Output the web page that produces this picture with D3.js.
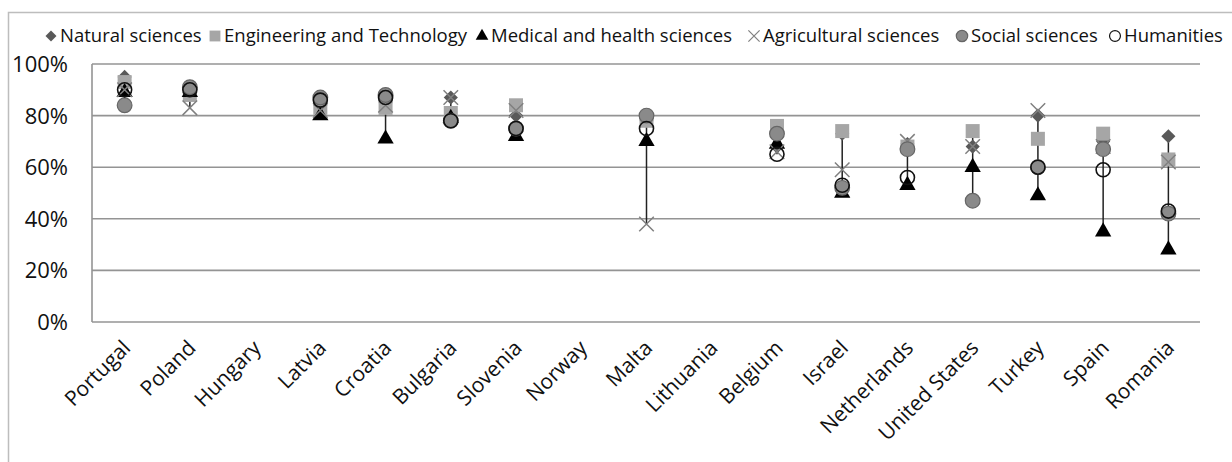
<!DOCTYPE html>
<html>
<head>
<meta charset="utf-8">
<script src="https://cdn.jsdelivr.net/npm/d3@7"></script>
<style>
  body { margin: 0; background: #fff; }
  svg { display: block; font-family: "Open Sans", sans-serif; }
</style>
</head>
<body>
<svg width="1232" height="462"></svg>
<script>
const countries = ['Portugal', 'Poland', 'Hungary', 'Latvia', 'Croatia', 'Bulgaria', 'Slovenia', 'Norway',
    'Malta', 'Lithuania', 'Belgium', 'Israel', 'Netherlands', 'United States', 'Turkey', 'Spain', 'Romania'];

// shares per country, null where there is no value
const natural      = [0.95, 0.89, null, 0.84, 0.85, 0.87, 0.80, null, 0.78, null, 0.68, 0.73, 0.69, 0.68, 0.80, 0.70, 0.72];
const engineering  = [0.93, 0.88, null, 0.83, 0.83, 0.81, 0.84, null, 0.78, null, 0.76, 0.74, 0.68, 0.74, 0.71, 0.73, 0.63];
const medical      = [0.89, 0.89, null, 0.80, 0.71, 0.79, 0.72, null, 0.70, null, 0.69, 0.50, 0.53, 0.60, 0.49, 0.35, 0.28];
const agricultural = [0.90, 0.83, null, 0.82, 0.84, 0.87, 0.82, null, 0.38, null, 0.66, 0.59, 0.70, 0.68, 0.82, 0.68, 0.62];
const social       = [0.84, 0.91, null, 0.87, 0.88, 0.78, 0.75, null, 0.80, null, 0.73, 0.52, 0.67, 0.47, 0.60, 0.67, 0.42];
const humanities   = [0.90, 0.90, null, 0.86, 0.87, 0.78, 0.75, null, 0.75, null, 0.65, 0.53, 0.56, null, 0.60, 0.59, 0.43];

const seriesNames = ['Natural sciences', 'Engineering and Technology', 'Medical and health sciences',
    'Agricultural sciences', 'Social sciences', 'Humanities'];
const yTicks = [0, 0.2, 0.4, 0.6, 0.8, 1];

const series = [natural, engineering, medical, agricultural, social, humanities];

const styles = [
    { type: d3.symbolSquare, size: 100, rotate: 45, fill: '#595959', stroke: 'none' },
    { type: d3.symbolSquare, size: 196, rotate: 0, fill: '#a6a6a6', stroke: 'none' },
    { type: d3.symbolTriangle, size: 115, rotate: 0, fill: '#000', stroke: 'none' },
    { type: d3.symbolTimes, size: 140, rotate: 0, fill: 'none', stroke: '#808080', sw: 1.5 },
    { type: d3.symbolCircle, size: 170, rotate: 0, fill: '#8a8a8a', stroke: '#666', sw: 1.2 },
    { type: d3.symbolCircle, size: 155, rotate: 0, fill: 'none', stroke: '#111', sw: 1.6 }
];

const plotLeft = 92, plotRight = 1201, plotTop = 64, plotBottom = 322;

const svg = d3.select('svg');

svg.append('rect')
    .attr('x', 8.5).attr('y', 12.5)
    .attr('width', 1240).attr('height', 470)
    .attr('fill', 'none')
    .attr('stroke', '#bdbdbd')
    .attr('stroke-width', 1.5);

const x = d3.scaleBand().domain(countries).range([plotLeft, plotRight]);
const y = d3.scaleLinear().domain([0, 1]).range([plotBottom, plotTop]);
const cx = c => x(c) + x.bandwidth() / 2;

// grid
svg.append('g')
    .selectAll('line')
    .data(yTicks)
    .join('line')
        .attr('x1', plotLeft).attr('x2', plotRight - 1)
        .attr('y1', d => y(d)).attr('y2', d => y(d))
        .attr('stroke', '#949494')
        .attr('stroke-width', 1.6);

svg.append('line')
    .attr('x1', plotLeft).attr('x2', plotLeft)
    .attr('y1', plotTop).attr('y2', plotBottom)
    .attr('stroke', '#949494')
    .attr('stroke-width', 1.6);

svg.append('g')
    .selectAll('text')
    .data(yTicks)
    .join('text')
        .attr('x', 68)
        .attr('y', d => y(d))
        .attr('dy', '0.36em')
        .attr('text-anchor', 'end')
        .style('font-size', '22px')
        .attr('fill', '#111')
        .text(d3.format('.0%'));

// x labels
svg.append('g')
    .selectAll('text')
    .data(countries)
    .join('text')
        .attr('transform', d => `translate(${cx(d) + 2}, 344) rotate(-45)`)
        .attr('text-anchor', 'end')
        .attr('dy', '0.35em')
        .style('font-size', '21px')
        .attr('fill', '#111')
        .text(d => d);

// high-low lines
const ranges = countries.map((c, i) => {
    const vals = series.map(s => s[i]).filter(v => v != null);
    return vals.length ? { c, lo: d3.min(vals), hi: d3.max(vals) } : null;
}).filter(d => d);

svg.append('g')
    .selectAll('line')
    .data(ranges)
    .join('line')
        .attr('x1', d => cx(d.c))
        .attr('x2', d => cx(d.c))
        .attr('y1', d => y(d.hi))
        .attr('y2', d => y(d.lo))
        .attr('stroke', '#222')
        .attr('stroke-width', 1.5);

// markers
series.forEach((s, k) => {
    const st = styles[k];
    const pts = countries.map((c, i) => ({ c, v: s[i] })).filter(d => d.v != null);
    svg.append('g')
        .selectAll('path')
        .data(pts)
        .join('path')
            .attr('d', d3.symbol().type(st.type).size(st.size))
            .attr('transform', d => `translate(${cx(d.c)}, ${y(d.v)}) rotate(${st.rotate})`)
            .attr('fill', st.fill)
            .attr('stroke', st.stroke)
            .attr('stroke-width', st.sw || 0);
});

// legend
const legendX = [51, 215, 482, 754, 962, 1115];
const legend = svg.append('g')
    .selectAll('g')
    .data(seriesNames)
    .join('g')
        .attr('transform', (d, i) => `translate(${legendX[i]}, 36)`);

legend.append('path')
    .attr('d', (d, i) => d3.symbol().type(styles[i].type).size(styles[i].size * 0.6)())
    .attr('transform', (d, i) => `rotate(${styles[i].rotate})`)
    .attr('fill', (d, i) => styles[i].fill)
    .attr('stroke', (d, i) => styles[i].stroke)
    .attr('stroke-width', (d, i) => styles[i].sw ? 1.2 : 0);

legend.append('text')
    .attr('x', 9)
    .attr('dy', '0.35em')
    .style('font-size', '18.5px')
    .attr('fill', '#111')
    .text(d => d);
</script>
</body>
</html>
